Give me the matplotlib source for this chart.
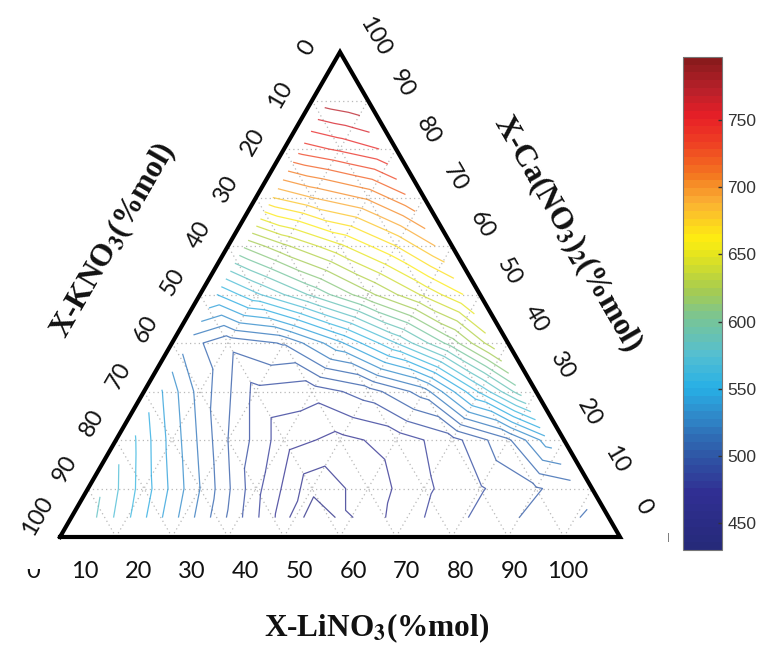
import numpy as np
import matplotlib.pyplot as plt
import matplotlib.tri as mtri
from matplotlib.colors import LinearSegmentedColormap, ListedColormap, Normalize
from matplotlib.cm import ScalarMappable
from matplotlib.transforms import Bbox, TransformedBbox

plt.rcParams['mathtext.fontset'] = 'stix'

# melting temperature, on rows of constant Ca(NO3)2 (%mol)
# KNO3 = 100 - LiNO3 - Ca(NO3)2
ca_rows = [4, 10, 20, 30, 40, 50, 60, 70, 80, 90]
li_rows = [
    [3, 10, 20, 30, 37, 44, 51, 60, 70, 80, 93],
    [3, 10, 20, 30, 40, 50, 60, 70, 80, 87],
    [3, 10, 20, 30, 40, 50, 60, 70, 77],
    [3, 10, 20, 30, 40, 50, 60, 67],
    [3, 10, 20, 30, 40, 50, 57],
    [3, 10, 20, 30, 40, 47],
    [3, 10, 20, 30, 37],
    [3, 10, 20, 27],
    [3, 10, 17],
    [3, 7],
]
temp_rows = [
    [585, 562, 527, 492, 468, 440, 462, 476, 489, 500, 512],
    [578, 555, 520, 483, 454, 464, 478, 489, 499, 505],
    [562, 536, 500, 474, 467, 474, 486, 508, 535],
    [541, 516, 487, 484, 495, 515, 562, 595],
    [514, 503, 511, 538, 570, 605, 635],
    [550, 568, 592, 617, 642, 660],
    [612, 628, 648, 670, 690],
    [680, 690, 702, 718],
    [735, 742, 750],
    [776, 779],
]

t_min, t_max = 430, 797
levels = np.arange(440, 800, 10)
cbar_ticks = [450, 500, 550, 600, 650, 700, 750]
axis_ticks = list(range(0, 101, 10))
grid_values = list(range(10, 100, 10))

jet_nodes = [
    (0.000, '#262a7a'), (0.109, '#302f93'), (0.191, '#2f5aa8'),
    (0.272, '#2f8bcb'), (0.327, '#27b0e6'), (0.395, '#55bfd0'),
    (0.463, '#76c49a'), (0.531, '#a8cc4e'), (0.599, '#e3e41f'),
    (0.632, '#fdee10'), (0.708, '#fbb034'), (0.763, '#f47b20'),
    (0.831, '#ef4023'), (0.886, '#e81f27'), (0.940, '#b9202a'),
    (1.000, '#8a1a1c'),
]
smooth = LinearSegmentedColormap.from_list('mjet', jet_nodes)
cmap = ListedColormap(smooth(np.linspace(0, 1, 64)))
norm = Normalize(t_min, t_max)

S3 = np.sqrt(3) / 2


def tern(li, ca):
    li = np.asarray(li, float)
    ca = np.asarray(ca, float)
    return li + ca / 2, ca * S3


# pixel -> data (5.6 px per %, bottom-left corner of triangle at 60, 537)
def px(x, y):
    return (x - 60) / 5.6, (537 - y) / 5.6


fig = plt.figure(figsize=(7.62, 6.51), dpi=100)
ax = fig.add_axes([0, 0, 1, 1])
ax.set_xlim(-60 / 5.6, (762 - 60) / 5.6)
ax.set_ylim((537 - 651) / 5.6, 537 / 5.6)
ax.axis('off')

# dotted grid
for v in grid_values:
    for li, ca in (([0, 100 - v], [v, v]), ([v, v], [0, 100 - v]),
                   ([100 - v, 0], [0, 100 - v])):
        gx, gy = tern(li, ca)
        ax.plot(gx, gy, color='#b8b8b8', lw=0.9, ls=(0, (1, 2.5)), zorder=1)

# contours
li_all, ca_all, t_all = [], [], []
for ca, lis, ts in zip(ca_rows, li_rows, temp_rows):
    li_all += lis
    ca_all += [ca] * len(lis)
    t_all += ts
nx, ny = tern(li_all, ca_all)
tri = mtri.Triangulation(nx, ny)
ax.tricontour(tri, np.array(t_all, float), levels=levels, cmap=cmap,
              norm=norm, linewidths=0.9, alpha=0.78, zorder=2)

# triangle frame
fx, fy = tern([0, 100, 0, 0], [0, 0, 100, 0])
ax.plot(fx, fy, color='black', lw=3.0, solid_joinstyle='miter', zorder=3)

# tick labels
tick_font = dict(family='Lato', fontsize=17, color='#111111')
for k, v in enumerate(axis_ticks):
    if v == 0:
        continue
    ax.text(*px(31 + 53.7 * k, 572), str(v), ha='center', va='center', **tick_font)
for k, v in enumerate(axis_ticks):
    ax.text(*px(307 - 26.9 * k, 48 + 46.8 * k), str(v), ha='center',
            va='center', rotation=60, **tick_font)
for k, v in enumerate(axis_ticks[::-1]):
    ax.text(*px(375 + 26.8 * k, 37 + 47 * k), str(v), ha='center',
            va='center', rotation=-60, **tick_font)

# the half-hidden "0" at the bottom left
zero = ax.text(*px(33, 572), '0', ha='center', va='center', **tick_font)
x0, y0 = px(15, 595)
x1, y1 = px(55, 569)
zero.set_clip_box(TransformedBbox(Bbox.from_extents(x0, y0, x1, y1), ax.transData))
zero.set_clip_on(True)

# axis titles
title_font = dict(family='Liberation Serif', fontweight='bold', fontsize=22.5,
                  color='#111111', ha='center', va='center')
ax.text(*px(377, 628), r'X-LiNO$_\mathbf{3}$(%mol)', **title_font)
ax.text(*px(113, 240), r'X-KNO$_\mathbf{3}$(%mol)', rotation=60, **title_font)
ax.text(*px(567, 233), r'X-Ca(NO$_\mathbf{3}$)$_\mathbf{2}$(%mol)',
        rotation=-60, **title_font)

ax.text(*px(668, 537), '|', ha='center', va='center', fontsize=6, color='#555555')

# colorbar
cax = fig.add_axes([683 / 762, (651 - 550) / 651, 39 / 762, 493 / 651])
cb = fig.colorbar(ScalarMappable(norm=norm, cmap=cmap), cax=cax, ticks=cbar_ticks)
cb.outline.set_linewidth(0.8)
cb.outline.set_edgecolor('#777777')
cax.tick_params(direction='in', length=3, width=1, color='#333333', pad=4,
                labelsize=12.5, labelcolor='#333333')
for lab in cax.get_yticklabels():
    lab.set_family('Liberation Sans')

fig.savefig('out.png', dpi=100)
